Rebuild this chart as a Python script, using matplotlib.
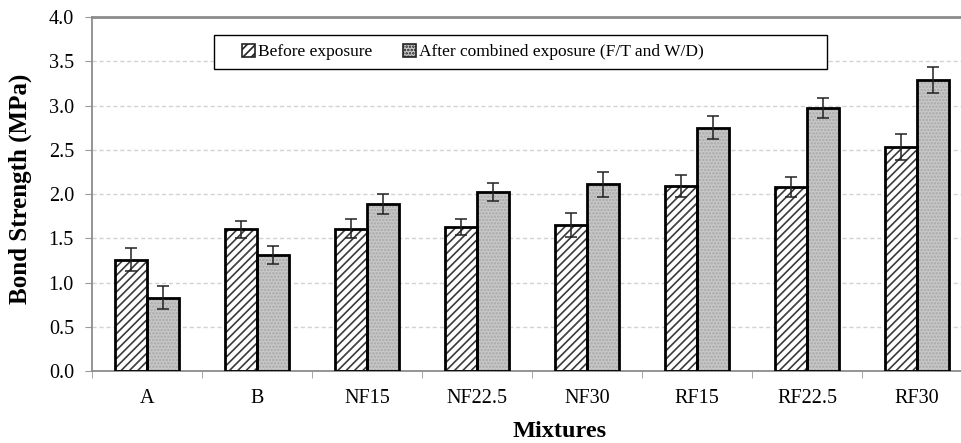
import matplotlib
matplotlib.use("Agg")
import matplotlib.pyplot as plt
import numpy as np

plt.rcParams["font.family"] = ["Liberation Serif", "DejaVu Serif"]
plt.rcParams["hatch.linewidth"] = 1.2

mixtures = ["A", "B", "NF15", "NF22.5", "NF30", "RF15", "RF22.5", "RF30"]
before = [1.26, 1.60, 1.61, 1.63, 1.65, 2.09, 2.08, 2.53]
before_err = [0.13, 0.10, 0.11, 0.09, 0.14, 0.12, 0.11, 0.15]
after = [0.83, 1.31, 1.89, 2.02, 2.11, 2.75, 2.97, 3.29]
after_err = [0.13, 0.10, 0.11, 0.10, 0.14, 0.13, 0.11, 0.15]

fig = plt.figure(figsize=(9.62, 4.43), dpi=100)
ax = fig.add_axes([0.0956, 0.1625, 0.915, 0.799])

x = np.arange(len(mixtures))
w = 0.29

# fill + hatch first, then a separate black outline on top
ax.bar(x - w / 2, before, w, color="white", edgecolor="#3a3a3a", hatch="////",
       linewidth=0, zorder=2)
ax.bar(x + w / 2, after, w, color="#c8c8c8", edgecolor="#a8a8a8", hatch=".....",
       linewidth=0, zorder=2)
ax.bar(x - w / 2, before, w, fill=False, edgecolor="black", linewidth=2, zorder=3)
ax.bar(x + w / 2, after, w, fill=False, edgecolor="black", linewidth=2, zorder=3)
ax.errorbar(x - w / 2, before, yerr=before_err, fmt="none", ecolor="#222222",
            elinewidth=1.1, capsize=4.5, capthick=1.1, zorder=4)
ax.errorbar(x + w / 2, after, yerr=after_err, fmt="none", ecolor="#222222",
            elinewidth=1.1, capsize=4.5, capthick=1.1, zorder=4)

# legend box drawn by hand (wide right padding), entries placed inside it
box = plt.Rectangle((0.1386, 0.853), 0.6966, 0.096, transform=ax.transAxes,
                    facecolor="white", edgecolor="black", linewidth=1.0, zorder=5)
ax.add_patch(box)
h1 = plt.Rectangle((0, 0), 1, 1, facecolor="white", edgecolor="#222222",
                   hatch="////", linewidth=1.2)
h2 = plt.Rectangle((0, 0), 1, 1, facecolor="#c8c8c8", edgecolor="#222222",
                   hatch=".....", linewidth=1.2)
leg = ax.legend([h1, h2], ["Before exposure", "After combined exposure (F/T and W/D)"],
                ncol=2, loc="center left", bbox_to_anchor=(0.170, 0.901),
                fontsize=12.5, frameon=False, borderpad=0, borderaxespad=0,
                handlelength=0.75, handleheight=0.75, handletextpad=0.2,
                columnspacing=1.75)
leg.set_zorder(6)

ax.set_xlim(-0.5, len(mixtures) - 0.5)
ax.set_ylim(0, 4.0)
ax.set_yticks(np.arange(0, 4.01, 0.5))
ax.set_yticklabels([f"{v:.1f}" for v in np.arange(0, 4.01, 0.5)])
ax.set_xticks(x)
ax.set_xticklabels(mixtures)
ax.set_xticks(np.arange(-0.5, len(mixtures), 1.0), minor=True)
ax.tick_params(axis="x", which="major", length=0, labelsize=14.5, pad=13)
ax.tick_params(axis="x", which="minor", length=5, color="#999999")
ax.tick_params(axis="y", length=5, color="#999999", labelsize=14.5, pad=8)

ax.yaxis.grid(True, linestyle=(0, (3, 2)), color="#d2d2d2", linewidth=1.0, zorder=0)
ax.set_axisbelow(True)

for side in ["left", "bottom", "top"]:
    ax.spines[side].set_color("#8c8c8c")
    ax.spines[side].set_linewidth(1.3)
ax.spines["top"].set_linewidth(2)
ax.spines["right"].set_visible(False)

ax.set_ylabel("Bond Strength (MPa)", fontsize=18, fontweight="bold")
ax.yaxis.set_label_coords(-0.068, 0.515)
ax.set_xlabel("Mixtures", fontsize=17.5, fontweight="bold", va="center")
ax.xaxis.set_label_coords(0.531, -0.17)

fig.savefig("out.png", dpi=100)
